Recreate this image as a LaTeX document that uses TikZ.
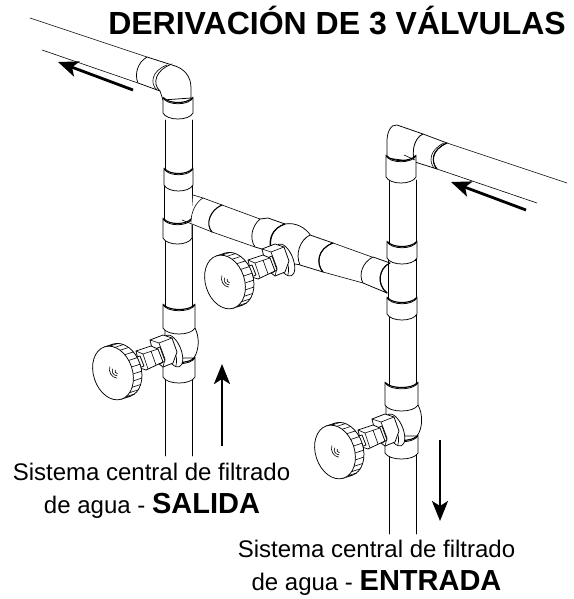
\documentclass[tikz,border=0pt]{standalone}
\usepackage{fontspec}
\setmainfont{Liberation Sans}
\usetikzlibrary{arrows.meta}
\newcommand{\bigwordfont}{\fontsize{29}{30}\selectfont\bfseries}
\tikzset{
  ln/.style={line width=0.75pt,draw=black,fill=white,line join=round,line cap=round},
  thn/.style={line width=0.6pt,draw=black,line cap=round},
  bead/.style={line width=1.1pt,draw=black,line cap=round},
  flow/.style={line width=2.8pt,-{Stealth[length=20pt,width=16pt,inset=5pt]}},
  captxt/.style={font=\fontsize{24}{27}\selectfont,text=black,inner sep=0pt,anchor=base},
  pics/valve/.style={code={
    % ring next to the tee
    \begin{scope}[shift={(60,-22)},rotate=22]
      \draw[ln] (0,0) ellipse [x radius=8,y radius=17];
      \draw[thn] (-3,-15) .. controls (3,-8) and (3,8) .. (-3,15);
    \end{scope}
    % large nut
    \draw[ln] (37,-33) -- (50,-38) -- (59,-35) -- (64,-21) -- (60,-10) -- (50,-6) -- (42,-12) -- cycle;
    \draw[thn] (37,-33) -- (46,-30) -- (59,-35);
    \draw[thn] (46,-30) -- (52,-14) -- (50,-6);
    % neck
    \draw[ln] (42,-24) -- (47,-26) -- (52,-12) -- (47,-9) -- cycle;
    % hex
    \draw[ln] (23,-22) -- (38,-27) -- (45,-24) -- (50,-11) -- (33,-3) -- (27,-5) -- cycle;
    \draw[thn] (23,-22) -- (30,-19) -- (45,-24);
    \draw[thn] (30,-19) -- (35,-4);
    \draw[thn] (38,-22) -- (43,-8);
    % stem
    \draw[ln] (21,-15) -- (27,-17) -- (31,-7) -- (24,-4) -- cycle;
    % knob
    \begin{scope}[rotate=18]
      \draw[ln] (9,0) ellipse [x radius=19.5,y radius=27.5];
      \foreach \t in {-90,-75,...,90}
        \draw[thn] ({19.5*cos(\t)},{27.5*sin(\t)}) -- ({19.5*cos(\t)+9},{27.5*sin(\t)});
      \draw[ln] (0,0) ellipse [x radius=19.5,y radius=27.5];
      \draw[thn] (-1,-7) .. controls (-4,-3) and (-3,4) .. (2,6);
      \draw[thn] (1,-4) .. controls (-1,-2) and (-1,2) .. (3,4);
      \draw[thn] (3,-2) .. controls (2,-1) and (2,1) .. (4,2);
    \end{scope}
  }}
}
% vertical collar: xl, xr, ytop, ybottom
\newcommand{\VColl}[4]{%
  \draw[ln] (#1,#3) -- (#1,#4) .. controls (#1+4,#4+8) and (#2-4,#4+8) .. (#2,#4) -- (#2,#3)
     .. controls (#2-2,#3+9) and (#1+2,#3+9) .. cycle;
  \draw[bead] (#1+1,#3+1) .. controls (#1+6,#3+7) and (#2-6,#3+7) .. (#2-1,#3+1);
}
\begin{document}
\begin{tikzpicture}[x=1pt,y=-1pt]
\useasboundingbox (0,0) rectangle (573,599);
\fill[white] (0,0) rectangle (573,599);

% --- free horizontal pipes
\draw[thn] (30,18) -- (147,57);
\draw[thn] (42,50) -- (138,83);
\draw[thn] (447,143) -- (567,183);
\draw[thn] (437,169) -- (537,203);

% --- vertical pipes
\draw[thn] (165,120) -- (165,456); \draw[thn] (192,120) -- (192,456);
\draw[thn] (389,180) -- (389,534); \draw[thn] (416,180) -- (416,534);

% --- top-left elbow
\draw[ln] (147,57) -- (172,65) .. controls (184,68) and (191,76) .. (191,88) -- (191,98)
   -- (163,100) -- (160,91) -- (138,83) .. controls (134,74) and (138,62) .. (147,57) -- cycle;
\draw[ln] (172,64) .. controls (155,70) and (152,84) .. (160,91);
\draw[thn] (167,65) .. controls (151,71) and (150,84) .. (157,90);
\VColl{163}{193}{97}{113}

% --- top-right elbow
\draw[ln] (423,134) -- (397,125) .. controls (391,124) and (387,132) .. (387,141) -- (387,158)
   -- (416,162) .. controls (411,153) and (414,138) .. (423,134) -- cycle;
\draw[ln] (423,134) -- (447,143) .. controls (431,150) and (431,162) .. (437,169) -- (415,162)
   .. controls (411,153) and (414,138) .. (423,134) -- cycle;
\draw[bead] (447,143) .. controls (431,150) and (431,162) .. (437,169);
\draw[thn] (444,143) .. controls (429,150) and (429,162) .. (434,168);
\VColl{386}{416}{155}{177}
\draw[thn] (404,155) -- (415,160);

% --- left tee
\draw[ln] (164,185) rectangle (192,225);
\VColl{164}{193}{168}{185}
\VColl{163}{192}{218}{238}

% --- branch: tee collar on the left
\fill[white] (193,195) -- (222,205) -- (212,232) -- (191,224) -- cycle;
\draw[thn,fill=white] (193,195) -- (203,198) -- (222,205);
\draw[thn] (203,198) .. controls (196,202) and (191,212) .. (191,222);
\draw[thn] (182,220) -- (212,232);
\draw[bead,fill=white] (222,205) .. controls (210,210) and (205,224) .. (212,232);
% pipe
\draw[thn] (222,205) -- (260,219);
\draw[thn] (212,232) -- (255,247);
% middle-left collar
\draw[ln] (260,219) -- (268,218) -- (285,224) .. controls (273,228) and (268,238) .. (272,252) -- (255,247)
    .. controls (249,238) and (252,226) .. (260,219);
% middle tee body
\draw[ln] (285,224) .. controls (296,222) and (306,228) .. (311,236) -- (302,265) -- (280,262) -- (272,252)
    .. controls (268,238) and (273,228) .. (285,224);
\draw[bead] (285,224) .. controls (273,228) and (268,238) .. (271,250);
% middle-right collar
\draw[ln] (310,235) -- (333,243) .. controls (317,249) and (316,264) .. (323,272) -- (300,265)
    .. controls (295,254) and (300,240) .. (310,235);
\draw[bead] (333,243) .. controls (317,249) and (316,264) .. (323,272);
\draw[thn] (333,243) -- (372,257);
\draw[thn] (323,272) -- (363,283);
% right tee
\draw[ln] (388,260) rectangle (416,305);
\draw[ln] (373,257) -- (390,263) .. controls (379,268) and (376,284) .. (387,293) -- (363,283)
    .. controls (358,274) and (363,262) .. (373,257);
\draw[bead] (390,263) .. controls (379,268) and (376,284) .. (387,293);
\VColl{387}{417}{241}{258}
\VColl{387}{417}{297}{314}

% --- left lower tee
\draw[ln] (165,328) -- (195,328) .. controls (199,336) and (200,348) .. (194,358) -- (165,358) -- cycle;
\VColl{163}{195}{304}{328}
\VColl{163}{195}{357}{377}

% --- right lower tee
\draw[ln] (386,405) -- (418,405) .. controls (423,414) and (423,428) .. (417,436) -- (386,436) -- cycle;
\VColl{385}{418}{382}{405}
\VColl{385}{418}{435}{453}

% --- valves
\pic at (225,282) {valve};
\pic at (113,373) {valve};
\pic at (335,452) {valve};

% --- flow arrows
\coordinate (a1s) at (133,90);  \coordinate (a1e) at (58,62);
\coordinate (a2s) at (526,210); \coordinate (a2e) at (451,182);
\coordinate (a3s) at (222,446); \coordinate (a3e) at (222,364);
\coordinate (a4s) at (440,440); \coordinate (a4e) at (440,521);
\draw[flow] (a1s) -- (a1e);
\draw[flow] (a2s) -- (a2e);
\draw[flow] (a3s) -- (a3e);
\draw[flow] (a4s) -- (a4e);

% --- texts
\node[anchor=base east,inner sep=0pt,font=\fontsize{32}{34}\selectfont\bfseries] (title) at (566,35) {DERIVACIÓN DE 3 VÁLVULAS};
\node[captxt] (l1a) at (151.5,480) {Sistema central de filtrado};
\node[captxt] (l1b) at (152,513) {de agua - {\bigwordfont SALIDA}};
\node[captxt] (l2a) at (376.5,557) {Sistema central de filtrado};
\node[captxt] (l2b) at (376.5,590) {de agua - {\bigwordfont ENTRADA}};
\end{tikzpicture}
\end{document}
